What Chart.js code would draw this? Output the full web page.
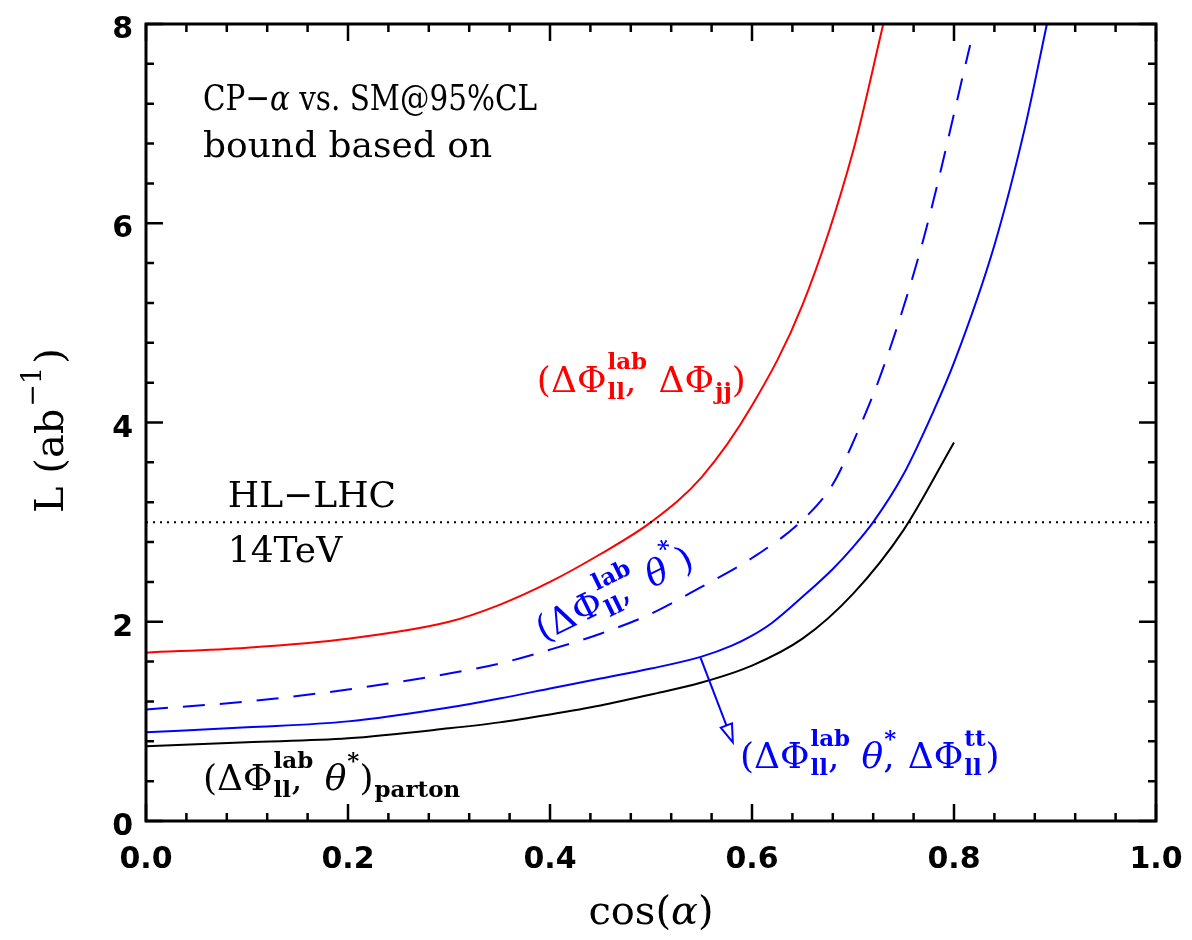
<!DOCTYPE html>
<html>
<head>
<meta charset="utf-8">
<script src="https://cdn.jsdelivr.net/npm/chart.js@4.4.1/dist/chart.umd.min.js"></script>
<style>
  html, body { margin: 0; padding: 0; background: #fff; }
  #wrap { width: 1192px; height: 940px; position: relative; }
</style>
</head>
<body>
<div id="wrap"><canvas id="chart"></canvas></div>
<script>
/* CP-alpha vs SM @95%CL luminosity bounds */

// cos(alpha) / L (ab^-1)
const redCos = [0.00, 0.10, 0.20, 0.30, 0.35, 0.40, 0.45, 0.50, 0.55, 0.60, 0.65, 0.70, 0.73];
const redL   = [1.69, 1.74, 1.83, 2.00, 2.17, 2.40, 2.68, 3.00, 3.45, 4.17, 5.18, 6.72, 8.00];

const dashCos = [0.00, 0.10, 0.20, 0.30, 0.35, 0.40, 0.45, 0.50, 0.55, 0.60, 0.65, 0.68, 0.70, 0.73, 0.77, 0.816];
const dashL   = [1.12, 1.20, 1.32, 1.48, 1.58, 1.72, 1.88, 2.08, 2.35, 2.64, 3.02, 3.38, 3.80, 4.55, 5.85, 7.79];

const blueCos = [0.00, 0.10, 0.20, 0.30, 0.35, 0.40, 0.45, 0.50, 0.55, 0.58, 0.60, 0.62, 0.65, 0.68, 0.70, 0.72, 0.75, 0.78, 0.80, 0.84, 0.87, 0.892];
const blueL   = [0.89, 0.94, 1.00, 1.14, 1.23, 1.33, 1.43, 1.53, 1.65, 1.76, 1.86, 1.99, 2.25, 2.53, 2.75, 3.00, 3.48, 4.12, 4.60, 5.78, 6.95, 8.00];

const partonCos = [0.00, 0.10, 0.20, 0.30, 0.35, 0.40, 0.45, 0.50, 0.55, 0.60, 0.65, 0.70, 0.75, 0.80];
const partonL   = [0.75, 0.79, 0.83, 0.93, 0.99, 1.07, 1.16, 1.27, 1.39, 1.56, 1.83, 2.28, 2.92, 3.80];

const hlLhcCos = [0.0, 1.0];
const hlLhcL   = [3.0, 3.0];

const xTicks = [0.0, 0.2, 0.4, 0.6, 0.8, 1.0];
const yTicks = [0, 2, 4, 6, 8];

// arrow from the solid blue curve to its label (data coords)
const arrowFrom = [0.549, 1.64];
const arrowTo   = [0.581, 0.79];

const SERIF = '"DejaVu Serif", serif';
const SANS = '"DejaVu Sans", sans-serif';
const FS = 36;

function pts(xs, ys) {
  return xs.map((x, i) => ({ x: x, y: ys[i] }));
}

// text with stacked super/subscripts; returns the advance width
function drawRich(ctx, parts, x, y, size, dry) {
  let cx = x;
  const ss = Math.round(size * 0.64);
  const put = (s, a, b) => { if (!dry) ctx.fillText(s, a, b); };
  parts.forEach((p) => {
    if (p.t !== undefined) {
      ctx.font = (p.i ? "italic " : "") + size + "px " + SERIF;
      put(p.t, cx, y);
      cx += ctx.measureText(p.t).width;
      return;
    }
    ctx.font = "bold " + ss + "px " + SERIF;
    let w = 0;
    if (p.sup) {
      put(p.sup, cx + 1, y - size * 0.62);
      w = Math.max(w, ctx.measureText(p.sup).width + 1);
    }
    let subW = 0;
    if (p.sub) {
      put(p.sub, cx + 1, y + size * 0.2);
      subW = ctx.measureText(p.sub).width + 1;
    }
    if (p.after) {
      ctx.font = size + "px " + SERIF;
      put(p.after, cx + subW, y);
      subW += ctx.measureText(p.after).width;
    }
    cx += Math.max(w, subW);
  });
  return cx - x;
}

const overlay = {
  id: "overlay",
  afterDatasetsDraw(chart) {
    const ctx = chart.ctx;
    const xs = chart.scales.x, ys = chart.scales.y;
    const a = chart.chartArea;
    const px = (v) => xs.getPixelForValue(v);
    const py = (v) => ys.getPixelForValue(v);
    ctx.save();

    // frame and inward ticks on all sides
    ctx.strokeStyle = "#000";
    ctx.lineWidth = 3;
    ctx.strokeRect(a.left, a.top, a.right - a.left, a.bottom - a.top);
    ctx.lineWidth = 2.5;
    ctx.beginPath();
    for (let i = 0; i <= 25; i++) {
      const v = i * 0.04;
      const len = i % 5 === 0 ? 17 : 8;
      ctx.moveTo(px(v), a.bottom); ctx.lineTo(px(v), a.bottom - len);
      ctx.moveTo(px(v), a.top); ctx.lineTo(px(v), a.top + len);
    }
    for (let i = 0; i <= 20; i++) {
      const v = i * 0.4;
      const len = i % 5 === 0 ? 17 : 8;
      ctx.moveTo(a.left, py(v)); ctx.lineTo(a.left + len, py(v));
      ctx.moveTo(a.right, py(v)); ctx.lineTo(a.right - len, py(v));
    }
    ctx.stroke();

    // tick labels
    ctx.fillStyle = "#000";
    ctx.font = "bold 30px " + SANS;
    ctx.textBaseline = "alphabetic";
    ctx.textAlign = "center";
    xTicks.forEach((v) => ctx.fillText(v.toFixed(1), px(v), a.bottom + 47));
    ctx.textAlign = "right";
    yTicks.forEach((v) => ctx.fillText(String(v), a.left - 13, py(v) + 14));

    // arrow with open head
    const x0 = px(arrowFrom[0]), y0 = py(arrowFrom[1]);
    const x1 = px(arrowTo[0]), y1 = py(arrowTo[1]);
    const ang = Math.atan2(y1 - y0, x1 - x0);
    const hl = 18, hw = 6;
    const bx = x1 - hl * Math.cos(ang), by = y1 - hl * Math.sin(ang);
    ctx.strokeStyle = "#0000ff";
    ctx.lineWidth = 2;
    ctx.beginPath();
    ctx.moveTo(x0, y0); ctx.lineTo(bx, by);
    ctx.stroke();
    ctx.beginPath();
    ctx.moveTo(x1, y1);
    ctx.lineTo(bx + hw * Math.sin(ang), by - hw * Math.cos(ang));
    ctx.lineTo(bx - hw * Math.sin(ang), by + hw * Math.cos(ang));
    ctx.closePath();
    ctx.fillStyle = "#fff";
    ctx.fill();
    ctx.stroke();

    // annotations
    ctx.textAlign = "left";
    ctx.fillStyle = "#000";
    const cpParts = [{ t: "CP\u2212" }, { t: "\u03b1", i: true }, { t: " vs. SM@95%CL" }];
    const cpW = drawRich(ctx, cpParts, 0, 0, FS, true);
    ctx.save();
    ctx.translate(px(0.0564), py(7.14));
    ctx.scale(334 / cpW, 1);
    drawRich(ctx, cpParts, 0, 0, FS);
    ctx.restore();
    drawRich(ctx, [{ t: "bound based on" }], px(0.0564), py(6.67), FS);
    drawRich(ctx, [{ t: "HL\u2212LHC" }], px(0.081), py(3.15), FS);
    drawRich(ctx, [{ t: "14TeV" }], px(0.081), py(2.60), FS);

    drawRich(ctx, [{ t: "(\u0394\u03a6" }, { sup: "lab", sub: "ll", after: "," }, { t: " \u03b8", i: true }, { sup: "*" }, { t: ")" }, { sub: "parton" }], px(0.0564), py(0.31), FS);

    ctx.fillStyle = "#ff0000";
    drawRich(ctx, [{ t: "(\u0394\u03a6" }, { sup: "lab", sub: "ll", after: "," }, { t: " \u0394\u03a6" }, { sub: "jj" }, { t: ")" }], px(0.387), py(4.31), FS);

    ctx.fillStyle = "#0000ff";
    drawRich(ctx, [{ t: "(\u0394\u03a6" }, { sup: "lab", sub: "ll", after: "," }, { t: " \u03b8", i: true }, { sup: "*", after: "," }, { t: " \u0394\u03a6" }, { sup: "tt", sub: "ll" }, { t: ")" }], px(0.588), py(0.53), FS);

    ctx.save();
    ctx.translate(px(0.393), py(1.80));
    ctx.rotate(-26 * Math.PI / 180);
    drawRich(ctx, [{ t: "(\u0394\u03a6" }, { sup: "lab", sub: "ll", after: "," }, { t: " \u03b8", i: true }, { sup: "*" }, { t: ")" }], 0, 0, FS);
    ctx.restore();

    // axis titles
    ctx.fillStyle = "#000";
    const xtParts = [{ t: "cos(" }, { t: "\u03b1", i: true }, { t: ")" }];
    const xtW = drawRich(ctx, xtParts, 0, 0, 40, true);
    drawRich(ctx, xtParts, 651 - xtW / 2, 924, 40);

    ctx.save();
    ctx.translate(63, 513);
    ctx.rotate(-Math.PI / 2);
    ctx.font = "40px " + SERIF;
    ctx.fillText("L (ab", 0, 0);
    let yx = ctx.measureText("L (ab").width;
    ctx.font = "27px " + SERIF;
    ctx.fillText("\u22121", yx + 2, -22);
    yx += ctx.measureText("\u22121").width + 5;
    ctx.font = "40px " + SERIF;
    ctx.fillText(")", yx, 0);
    ctx.restore();

    ctx.restore();
  },
};

new Chart(document.getElementById("chart"), {
  type: "line",
  data: {
    datasets: [
      { label: "HL-LHC 14TeV", data: pts(hlLhcCos, hlLhcL), borderColor: "#000", borderWidth: 2, borderDash: [2, 5], pointRadius: 0 },
      { label: "dPhi_ll, dPhi_jj", data: pts(redCos, redL), borderColor: "#ff0000", borderWidth: 2, pointRadius: 0 },
      { label: "dPhi_ll, theta*", data: pts(dashCos, dashL), borderColor: "#0000ff", borderWidth: 2, borderDash: [22, 15], pointRadius: 0 },
      { label: "dPhi_ll, theta*, dPhi_tt", data: pts(blueCos, blueL), borderColor: "#0000ff", borderWidth: 2, pointRadius: 0 },
      { label: "parton", data: pts(partonCos, partonL), borderColor: "#000", borderWidth: 2, pointRadius: 0 },
    ],
  },
  options: {
    responsive: true,
    maintainAspectRatio: false,
    animation: false,
    events: [],
    layout: { padding: { top: 24, right: 36, left: 0, bottom: 0 } },
    elements: { line: { cubicInterpolationMode: "monotone" } },
    plugins: { legend: { display: false }, tooltip: { enabled: false } },
    scales: {
      x: {
        type: "linear",
        min: 0,
        max: 1,
        afterFit: (s) => { s.height = 119; },
        grid: { display: false, drawTicks: false },
        border: { display: false },
        ticks: { display: false },
      },
      y: {
        type: "linear",
        min: 0,
        max: 8,
        afterFit: (s) => { s.width = 146; },
        grid: { display: false, drawTicks: false },
        border: { display: false },
        ticks: { display: false },
      },
    },
  },
  plugins: [overlay],
});
</script>
</body>
</html>
